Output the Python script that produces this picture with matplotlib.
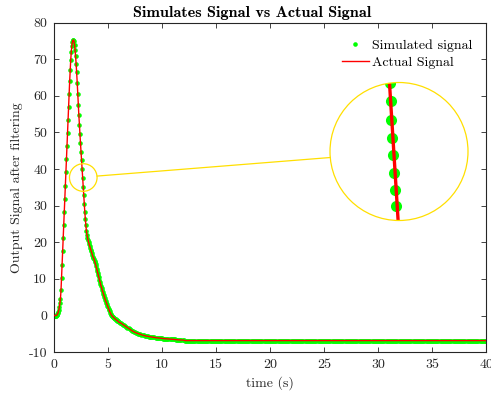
import numpy as np
import matplotlib
matplotlib.use("Agg")
import matplotlib.pyplot as plt
from matplotlib.patches import Circle, Ellipse, ConnectionPatch

# ---------------- data ----------------
t_fast = np.linspace(0.0, 6.0, 121)      # 0.05 s steps
t_slow = np.linspace(6.1, 12.0, 60)      # 0.1 s steps
t_tail = np.linspace(12.1, 40.0, 280)    # 0.1 s steps

sig_fast = [0, 0, 0, 0, 0, 0.1, 0.3, 0.6, 1.0, 1.6,
            2.4, 3.4, 4.6, 7.0, 10.3, 13.9, 17.5, 21.1, 24.7, 28.3,
            31.9, 35.5, 39.1, 42.7, 46.3, 49.9, 53.5, 57.1, 60.6, 64.0,
            67.1, 69.9, 72.1, 73.7, 74.7, 75.2, 75.3, 74.9, 74.0, 72.6,
            70.8, 68.8, 66.4, 63.6, 60.5, 57.6, 54.8, 52.1, 49.6, 47.2,
            44.8, 42.4, 40.0, 37.6, 35.2, 32.9, 30.6, 28.4, 26.3, 24.6,
            23.2, 22.1, 21.3, 20.6, 20.0, 19.5, 19.0, 18.5, 18.0, 17.5,
            17.0, 16.6, 16.1, 15.8, 15.5, 15.0, 14.5, 14.0, 13.4, 12.8,
            12.2, 11.6, 11.0, 10.4, 9.8, 9.2, 8.6, 8.1, 7.6, 7.0,
            6.5, 6.0, 5.6, 5.1, 4.7, 4.3, 3.9, 3.5, 3.1, 2.7,
            2.3, 1.9, 1.5, 1.1, 0.8, 0.5, 0.2, 0.0, -0.2, -0.3,
            -0.5, -0.6, -0.8, -0.9, -1.0, -1.2, -1.3, -1.4, -1.5, -1.6,
            -1.8]
sig_slow = [-1.95, -2.1, -2.3, -2.5, -2.7, -2.9, -3.1, -3.3, -3.5, -3.7,
            -3.9, -4.1, -4.3, -4.45, -4.6, -4.75, -4.85, -4.95, -5.05, -5.15,
            -5.25, -5.35, -5.45, -5.5, -5.6, -5.65, -5.7, -5.75, -5.8, -5.85,
            -5.9, -5.95, -6.0, -6.05, -6.1, -6.1, -6.15, -6.2, -6.2, -6.25,
            -6.3, -6.3, -6.35, -6.35, -6.4, -6.4, -6.45, -6.45, -6.5, -6.5,
            -6.55, -6.55, -6.6, -6.6, -6.65, -6.65, -6.7, -6.7, -6.7, -6.75]
sig_tail = [-6.85] * 280

# points visible in the magnified view
zoom_sim_t = [2.546, 2.553, 2.565, 2.578, 2.607, 2.620, 2.639, 2.657, 2.670]
zoom_sim_v = [41.45, 40.48, 39.44, 38.44, 37.50, 36.53, 35.62, 34.71, 33.70]
zoom_act_t = [2.528, 2.700]
zoom_act_v = [41.72, 33.63]

xticks = [0, 5, 10, 15, 20, 25, 30, 35, 40]
yticks = [-10, 0, 10, 20, 30, 40, 50, 60, 70, 80]

time = np.concatenate([t_fast, t_slow, t_tail])
signal = np.concatenate([sig_fast, sig_slow, sig_tail])

# ---------------- style ----------------
plt.rcParams["font.family"] = ["cmr10", "DejaVu Serif"]
plt.rcParams["mathtext.fontset"] = "cm"
plt.rcParams["axes.unicode_minus"] = False
plt.rcParams["axes.formatter.use_mathtext"] = False

GREEN = "#00ff00"
RED = "#ff0000"
YELLOW = "#ffdf00"
AXC = "#262626"

fig = plt.figure(figsize=(4.91, 3.96), dpi=100)
ax = fig.add_axes([54 / 491, 1 - 352.1 / 396, (486 - 54) / 491, (352.1 - 22.7) / 396])

ax.plot(time, signal, "o", color=GREEN, ms=3.3, mec="none", label="Simulated signal", zorder=2)
ax.plot(time, signal, "-", color=RED, lw=1.0, label="Actual Signal", zorder=3)

ax.set_xlim(0, 40)
ax.set_ylim(-10, 80)
ax.set_xticks(xticks)
ax.set_yticks(yticks)
ax.tick_params(direction="in", top=True, right=True, length=3.8, width=0.6,
               pad=5, labelsize=10, colors=AXC)
for s in ax.spines.values():
    s.set_color(AXC)
    s.set_linewidth(0.8)

ax.set_xlabel("time (s)", fontsize=10, color=AXC)
ax.set_ylabel("Output Signal after filtering", fontsize=10, color=AXC)
ax.set_title("Simulates Signal vs Actual Signal", fontsize=11.7,
             family=["cmb10", "DejaVu Serif"], pad=4, x=0.4595)

ax.legend(loc="upper right", bbox_to_anchor=(0.988, 0.976), frameon=False,
          fontsize=10, handlelength=2.0, handletextpad=0.2, labelspacing=0.3,
          borderaxespad=0.4, borderpad=0.2)

# ---------------- magnified view ----------------
c_t, c_v = 2.71, 37.7          # centre of the small circle (data units)
mag = 5.0
ax_in = fig.add_axes([330 / 491, 1 - 220.5 / 396, 138 / 491, 138 / 396])
px_per_t = 432 / 40.0
px_per_v = 329.4 / 90.0
r_px_small = 69 / mag
rx = r_px_small / px_per_t
ry = r_px_small / px_per_v
ax_in.set_xlim(c_t - rx, c_t + rx)
ax_in.set_ylim(c_v - ry, c_v + ry)
ax_in.axis("off")

circ = Circle((0.5, 0.5), 0.5, transform=ax_in.transAxes, fill=False,
              ec=YELLOW, lw=0.9, zorder=5)
ax_in.add_patch(circ)
circ.set_clip_on(False)

d, = ax_in.plot(zoom_sim_t, zoom_sim_v, "o", color=GREEN, ms=8, mec="none", zorder=2)
l, = ax_in.plot(zoom_act_t, zoom_act_v, "-", color=RED, lw=2.4, zorder=3)
d.set_clip_path(circ)
l.set_clip_path(circ)

small = Ellipse((c_t, c_v), 2 * rx, 2 * ry, fill=False, ec=YELLOW, lw=0.9, zorder=4)
ax.add_patch(small)

a1 = np.deg2rad(6)
a2 = np.deg2rad(185)
con = ConnectionPatch(xyA=(c_t + rx * np.cos(a1), c_v + ry * np.sin(a1)), coordsA=ax.transData,
                      xyB=(0.5 + 0.5 * np.cos(a2), 0.5 + 0.5 * np.sin(a2)), coordsB=ax_in.transAxes,
                      color=YELLOW, lw=0.9)
fig.add_artist(con)

fig.savefig("out.png", dpi=100)
